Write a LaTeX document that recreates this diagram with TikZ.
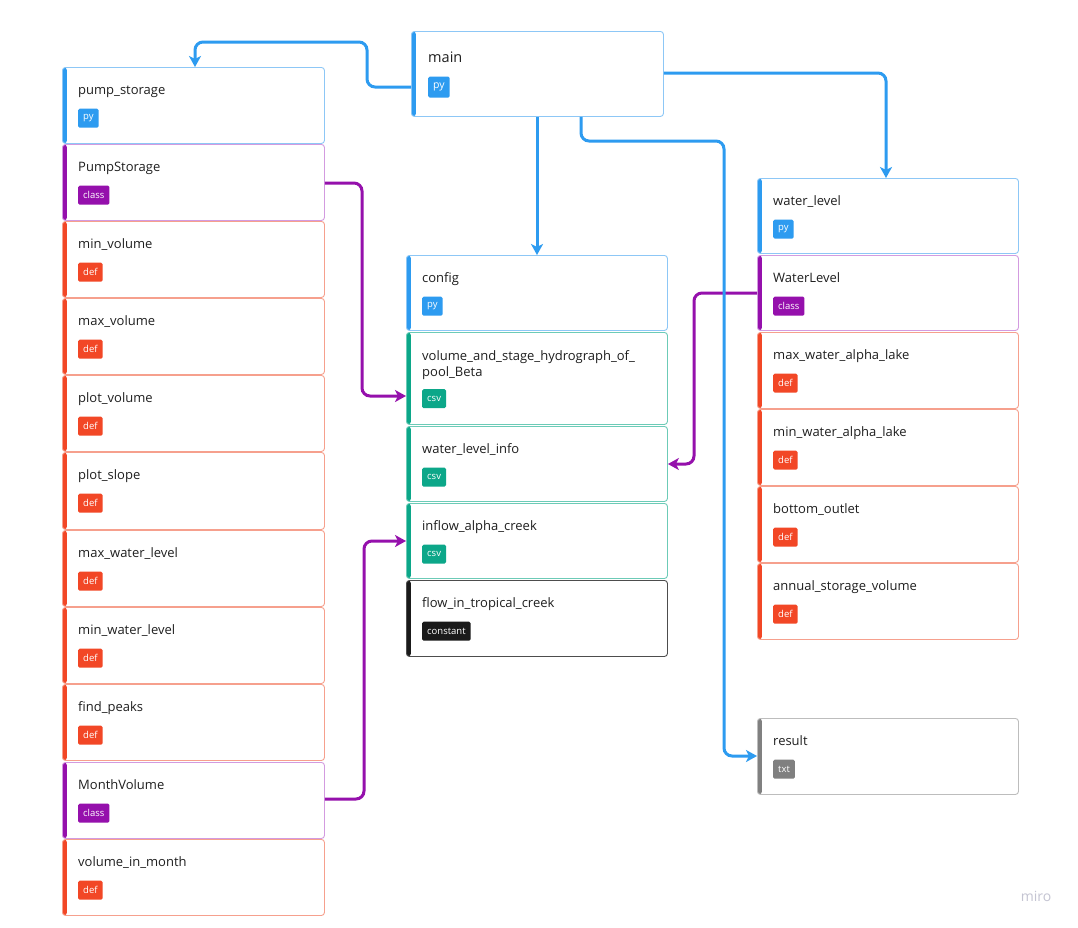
\documentclass[tikz,border=0pt]{standalone}
\usepackage{fontspec}
\setmainfont{Open Sans}
\usetikzlibrary{arrows.meta,calc}
\definecolor{pyC}{HTML}{2D9BF0}
\definecolor{pyB}{HTML}{8DC7F6}
\definecolor{classC}{HTML}{9510AC}
\definecolor{classB}{HTML}{D39BE0}
\definecolor{defC}{HTML}{F24726}
\definecolor{defB}{HTML}{F6A08D}
\definecolor{csvC}{HTML}{0CA789}
\definecolor{csvB}{HTML}{6CCBB7}
\definecolor{constC}{HTML}{1A1A1A}
\definecolor{constB}{HTML}{4D4D4D}
\definecolor{txtC}{HTML}{808080}
\definecolor{txtB}{HTML}{BDBDBD}
\definecolor{titleC}{HTML}{1F1F1F}
\definecolor{miroC}{HTML}{C4C4D2}
\tikzset{
  card/.style={draw=#1B, fill=white, rounded corners=3pt, line width=0.9pt, inner sep=0pt,
    path picture={\fill[#1C] ([xshift=-1pt]path picture bounding box.north west) rectangle ([xshift=4.5pt]path picture bounding box.south west);}},
  title/.style={font=\fontsize{13}{16.5}\selectfont, text=titleC, inner sep=0pt, align=left},
  tag/.style={fill=#1C, text=white, rounded corners=1.5pt, font=\fontsize{9.5}{11}\selectfont,
    minimum height=19pt, inner xsep=5pt, inner ysep=0pt, anchor=north west},
  bconn/.style={draw=pyC, line width=3pt, rounded corners=8pt, -{Stealth[length=11pt,width=12pt,inset=3pt]}},
  pconn/.style={draw=classC, line width=3pt, rounded corners=8pt, -{Stealth[length=11pt,width=12pt,inset=3pt]}},
}
\newcommand\mycard[8]{%
  \node[card=#6, minimum width=#4pt, minimum height=#5pt, anchor=north west] (#1) at (#2,#3) {};
  \node[title, anchor=base west] (#1t) at ($(#1.north west)+(16,27.5)$) {#7};
  \node[tag=#6] (#1g) at ($(#1.north west)+(16,41.5)$) {#8};
}
\begin{document}
\begin{tikzpicture}[x=1pt,y=-1pt]
\useasboundingbox[fill=white] (0,0) rectangle (1078,927);

% main
\node[card=py, minimum width=252pt, minimum height=85pt, anchor=north west] (main) at (411,31) {};
\node[title, font=\fontsize{14.5}{17}\selectfont, anchor=base west] (maint) at ($(main.north west)+(17,31)$) {main};
\node[tag=py, minimum height=21pt, font=\fontsize{10.5}{12}\selectfont] (maing) at ($(main.north west)+(17,45.5)$) {py};

% left column
\mycard{pump}{62}{67}{262}{76}{py}{pump\_storage}{py}
\mycard{pumpcls}{62}{144}{262}{76}{class}{PumpStorage}{class}
\mycard{minvol}{62}{221}{262}{76}{def}{min\_volume}{def}
\mycard{maxvol}{62}{298}{262}{76}{def}{max\_volume}{def}
\mycard{plotvol}{62}{375}{262}{76}{def}{plot\_volume}{def}
\mycard{plotslope}{62}{452}{262}{77}{def}{plot\_slope}{def}
\mycard{maxwl}{62}{530}{262}{76}{def}{max\_water\_level}{def}
\mycard{minwl}{62}{607}{262}{76}{def}{min\_water\_level}{def}
\mycard{peaks}{62}{684}{262}{76}{def}{find\_peaks}{def}
\mycard{monthcls}{62}{762}{262}{76}{class}{MonthVolume}{class}
\mycard{volmonth}{62}{839}{262}{76}{def}{volume\_in\_month}{def}

% middle column
\mycard{config}{406}{255}{261}{75}{py}{config}{py}
\node[card=csv, minimum width=261pt, minimum height=92pt, anchor=north west] (vol) at (406,332) {};
\node[title, anchor=base west] (volt) at ($(vol.north west)+(16,44.5)$) {volume\_and\_stage\_hydrograph\_of\_\\pool\_Beta};
\node[tag=csv] (volg) at ($(vol.north west)+(16,57)$) {csv};
\mycard{wli}{406}{426}{261}{75}{csv}{water\_level\_info}{csv}
\mycard{inflow}{406}{503}{261}{75}{csv}{inflow\_alpha\_creek}{csv}
\mycard{flow}{406}{580}{261}{76}{const}{flow\_in\_tropical\_creek}{constant}

% right column
\mycard{wl}{757}{178}{261}{75}{py}{water\_level}{py}
\mycard{wlcls}{757}{255}{261}{75}{class}{WaterLevel}{class}
\mycard{maxwal}{757}{332}{261}{76}{def}{max\_water\_alpha\_lake}{def}
\mycard{minwal}{757}{409}{261}{76}{def}{min\_water\_alpha\_lake}{def}
\mycard{bottom}{757}{486}{261}{76}{def}{bottom\_outlet}{def}
\mycard{annual}{757}{563}{261}{76}{def}{annual\_storage\_volume}{def}
\mycard{result}{757}{718}{261}{76}{txt}{result}{txt}

% purple connectors
\draw[pconn] ($(pumpcls.north east)+(0,39)$) -- (362,183) -- (362,396) -- ($(vol.north west)+(0,64)$);
\draw[pconn] ($(monthcls.north east)+(0,37)$) -- (364,799) -- (364,541) -- ($(inflow.north west)+(0,38)$);
\draw[pconn] ($(wlcls.north west)+(0,38)$) -- (694,293) -- (694,464) -- ($(wli.north east)+(0,38)$);

% blue connectors
\draw[bconn] ($(main.north west)+(0,56)$) -- (367,87) -- (367,42) -- (195,42) -- ($(pump.north west)+(133,0)$);
\draw[bconn] ($(main.north east)+(0,42)$) -- (886,73) -- ($(wl.north west)+(129,0)$);
\draw[bconn] ($(main.south west)+(126,0)$) -- ($(config.north west)+(131,0)$);
\draw[bconn] ($(main.south west)+(170,0)$) -- (581,141) -- (724,141) -- (724,756) -- ($(result.north west)+(0,38)$);

\node[font=\fontsize{14}{14}\selectfont, text=miroC] (logo) at (1036,896) {miro};
\end{tikzpicture}
\end{document}
